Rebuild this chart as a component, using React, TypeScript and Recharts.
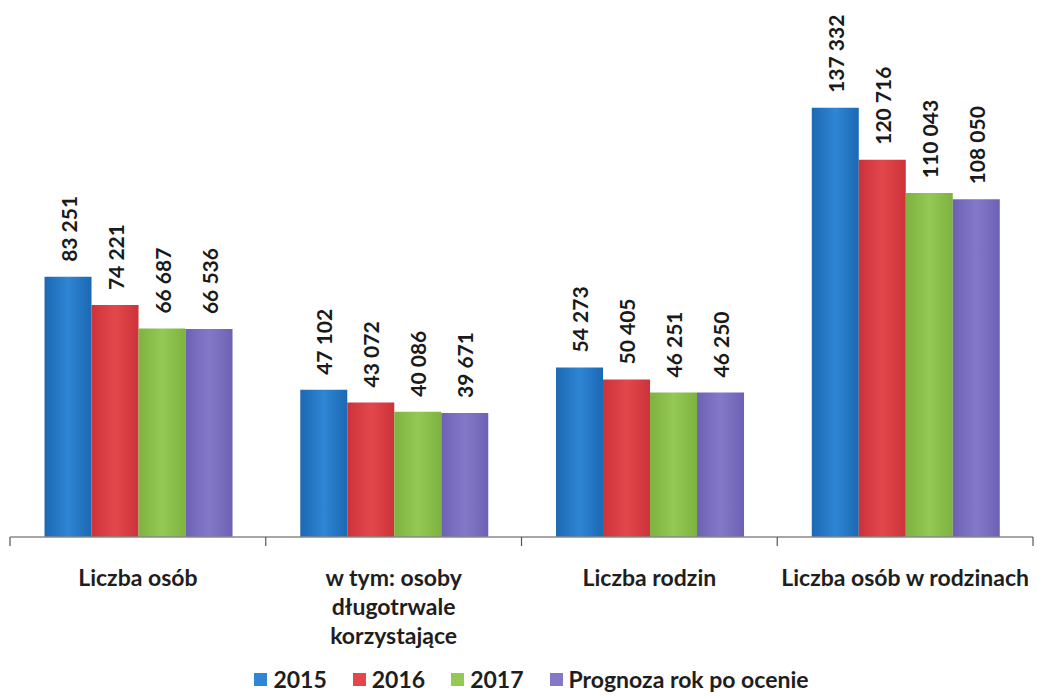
import { BarChart, Bar, XAxis, YAxis, Legend, LabelList } from 'recharts'

const categories = [
	'Liczba osób',
	'w tym: osoby długotrwale korzystające',
	'Liczba rodzin',
	'Liczba osób w rodzinach',
]
const categoryLines = [
	['Liczba osób'],
	['w tym: osoby', 'długotrwale', 'korzystające'],
	['Liczba rodzin'],
	['Liczba osób w rodzinach'],
]
const y2015 = [83251, 47102, 54273, 137332]
const y2016 = [74221, 43072, 50405, 120716]
const y2017 = [66687, 40086, 46251, 110043]
const yForecast = [66536, 39671, 46250, 108050]

const series = [
	{ key: 'y2015', name: '2015', dark: '#1c68b3', light: '#2e86d4' },
	{ key: 'y2016', name: '2016', dark: '#cc3338', light: '#e2474c' },
	{ key: 'y2017', name: '2017', dark: '#7fb240', light: '#93c954' },
	{ key: 'yForecast', name: 'Prognoza rok po ocenie', dark: '#6d61b5', light: '#8379c8' },
]

const data = categories.map((c, i) => ({
	category: c,
	y2015: y2015[i],
	y2016: y2016[i],
	y2017: y2017[i],
	yForecast: yForecast[i],
}))

const FONT = 'Lato, "Open Sans", sans-serif'
const W = 1038
const H = 697
const LEFT = 10
const RIGHT = 5
const band = (W - LEFT - RIGHT) / categories.length

const fmt = (v: number) => String(v).replace(/\B(?=(\d{3})+(?!\d))/g, ' ')

const ValueLabel = (props: any) => {
	const { x, y, width, value } = props
	const cx = Number(x) + Number(width) / 2
	const ty = Number(y) - 15
	return (
		<text
			x={cx}
			y={ty}
			transform={`rotate(-90 ${cx} ${ty})`}
			textAnchor="start"
			dominantBaseline="central"
			fontFamily={FONT}
			fontWeight={700}
			fontSize={21}
			fill="#1a1a1a"
		>
			{fmt(value)}
		</text>
	)
}

const CategoryTick = (props: any) => {
	const { x, y, index } = props
	const axisY = Number(y) - 8
	const lines = categoryLines[index] ?? []
	return (
		<g>
			<line x1={x - band / 2} x2={x - band / 2} y1={axisY} y2={axisY + 9} stroke="#555" strokeWidth={1.2} />
			{index === categories.length - 1 && (
				<line x1={x + band / 2} x2={x + band / 2} y1={axisY} y2={axisY + 9} stroke="#555" strokeWidth={1.2} />
			)}
			{lines.map((l, i) => (
				<text
					key={l}
					x={x}
					y={axisY + 49 + i * 29}
					textAnchor="middle"
					fontFamily={FONT}
					fontWeight={700}
					fontSize={23}
					fill="#1e1e1e"
				>
					{l}
				</text>
			))}
		</g>
	)
}

const LegendContent = () => (
	<div
		style={{
			display: 'flex',
			justifyContent: 'center',
			gap: 26,
			fontFamily: FONT,
			fontWeight: 700,
			fontSize: 23,
			lineHeight: '26px',
			color: '#1e1e1e',
			paddingTop: 4,
			paddingLeft: 20,
		}}
	>
		{series.map((s) => (
			<div key={s.key} style={{ display: 'flex', alignItems: 'center', gap: 6 }}>
				<span style={{ width: 13, height: 13, background: s.light, display: 'inline-block' }} />
				<span>{s.name}</span>
			</div>
		))}
	</div>
)

export default function App() {
	return (
		<div style={{ position: 'absolute', left: 0, top: 0, width: W, height: H, background: '#fff' }}>
			<BarChart
				width={W}
				height={H}
				data={data}
				margin={{ top: 37, right: RIGHT, left: LEFT, bottom: 0 }}
				barCategoryGap="13.5%"
				barGap={0}
			>
				<defs>
					{series.map((s) => (
						<linearGradient key={s.key} id={`g-${s.key}`} x1="0" y1="0" x2="1" y2="0">
							<stop offset="0%" stopColor={s.dark} />
							<stop offset="50%" stopColor={s.light} />
							<stop offset="100%" stopColor={s.dark} />
						</linearGradient>
					))}
				</defs>
				<XAxis
					dataKey="category"
					height={125}
					tickLine={false}
					axisLine={{ stroke: '#888', strokeWidth: 1.3 }}
					tick={<CategoryTick />}
					interval={0}
				/>
				<YAxis hide domain={[0, 160000]} />
				<Legend
					verticalAlign="bottom"
					height={35}
					content={<LegendContent />}
				/>
				{series.map((s) => (
					<Bar
						key={s.key}
						dataKey={s.key}
						name={s.name}
						fill={`url(#g-${s.key})`}
						isAnimationActive={false}
					>
						<LabelList dataKey={s.key} content={<ValueLabel />} />
					</Bar>
				))}
			</BarChart>
		</div>
	)
}
